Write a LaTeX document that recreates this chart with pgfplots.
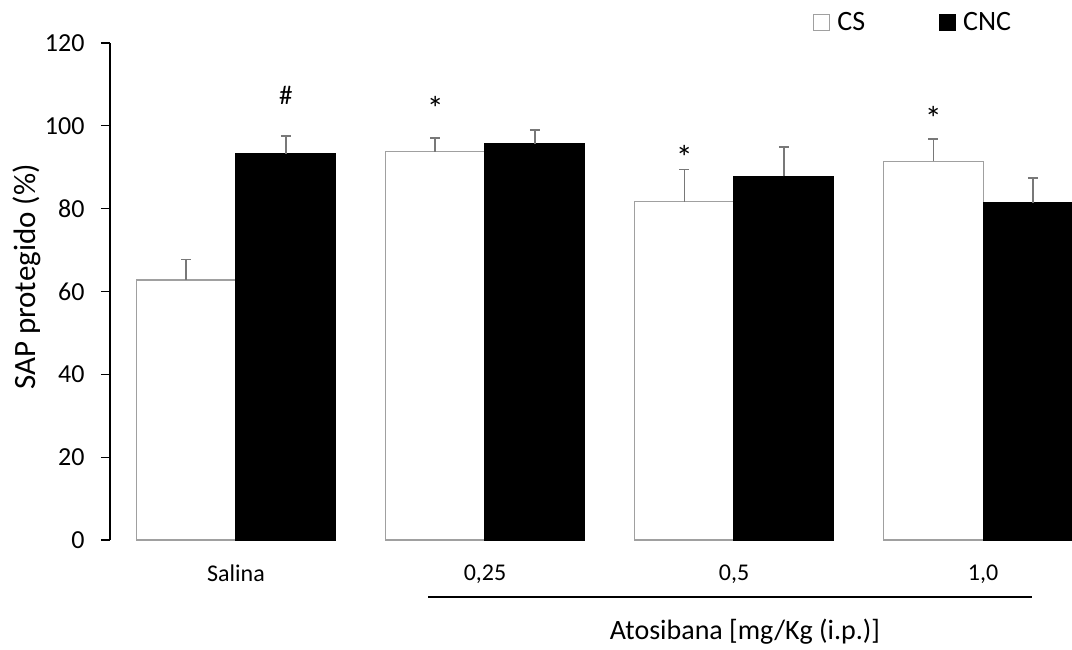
\documentclass[border=0pt]{standalone}
\usepackage{pgfplots}
\pgfplotsset{compat=1.18}
\usepackage{fontspec}
\setmainfont{Carlito}
\definecolor{errgray}{RGB}{120,120,120}
\definecolor{edgegray}{RGB}{160,160,160}
\begin{document}
\begin{tikzpicture}[x=1pt,y=1pt]
\useasboundingbox (0,0) rectangle (1072,649);
\begin{axis}[
  at={(110pt,109pt)}, anchor=south west,
  scale only axis, width=962pt, height=497pt,
  xmin=-0.506, xmax=3.357, ymin=0, ymax=120,
  ybar=0pt, bar width=0.4,
  axis y line*=left, axis x line*=bottom,
  axis line style={-},
  y axis line style={line width=1.2pt, black},
  x axis line style={draw=none},
  xtick={0,1,2,3}, xticklabels={Salina,{0,25},{0,5},{1,0}},
  x tick style={draw=none},
  ytick={0,20,...,120},
  y tick style={line width=1.2pt, black},
  tick align=outside, major tick length=9pt,
  /pgf/number format/assume math mode=true,
  yticklabel style={font=\fontsize{26}{30}\selectfont, xshift=-13pt},
  xticklabel style={font=\fontsize{24}{28}\selectfont, yshift=-12pt},
  ylabel={SAP protegido (\%)},
  ylabel style={font=\fontsize{31}{35}\selectfont, at={(axis description cs:-0.0863,0.529)}, anchor=center},
  error bars/y dir=plus, error bars/y explicit,
  error bars/error bar style={line width=1.5pt, errgray},
  error bars/error mark options={rotate=90, mark size=5pt, line width=1.5pt, errgray},
  legend image code/.code={\draw[#1, line width=1pt] (0pt,-8pt) rectangle (16pt,8pt);},
  legend style={draw=none, fill=none, font=\fontsize{28}{32}\selectfont,
    at={(axis description cs:0.731,1.042)}, anchor=west, inner sep=0pt,
    /tikz/every odd column/.append style={column sep=5pt},
    /tikz/every even column/.append style={column sep=72pt}},
  legend columns=2,
]
\addplot[fill=white, draw=edgegray, line width=1.2pt] table[x=x, y=y, y error=e] {
x y e
0 62.8 4.9
1 93.8 3.3
2 81.7 7.7
3 91.4 5.4
};
\addlegendentry{CS}
\addplot[fill=black, draw=black, line width=1.2pt] table[x=x, y=y, y error=e] {
x y e
0 93.3 4.3
1 95.6 3.4
2 87.8 7.1
3 81.4 6.0
};
\addlegendentry{CNC}
\node[font=\fontsize{27}{30}\selectfont] at (axis cs:0.2,107.4) {\#};
\node[font=\fontsize{34}{38}\selectfont] at (axis cs:0.8,104.1) {*};
\node[font=\fontsize{34}{38}\selectfont] at (axis cs:1.8,92.3) {*};
\node[font=\fontsize{34}{38}\selectfont] at (axis cs:2.8,101.9) {*};
\end{axis}
\draw[line width=1.2pt] (428,52) -- (1032,52);
\node[font=\fontsize{28}{32}\selectfont] at (745,17) {Atosibana [mg/Kg (i.p.)]};
\end{tikzpicture}
\end{document}
